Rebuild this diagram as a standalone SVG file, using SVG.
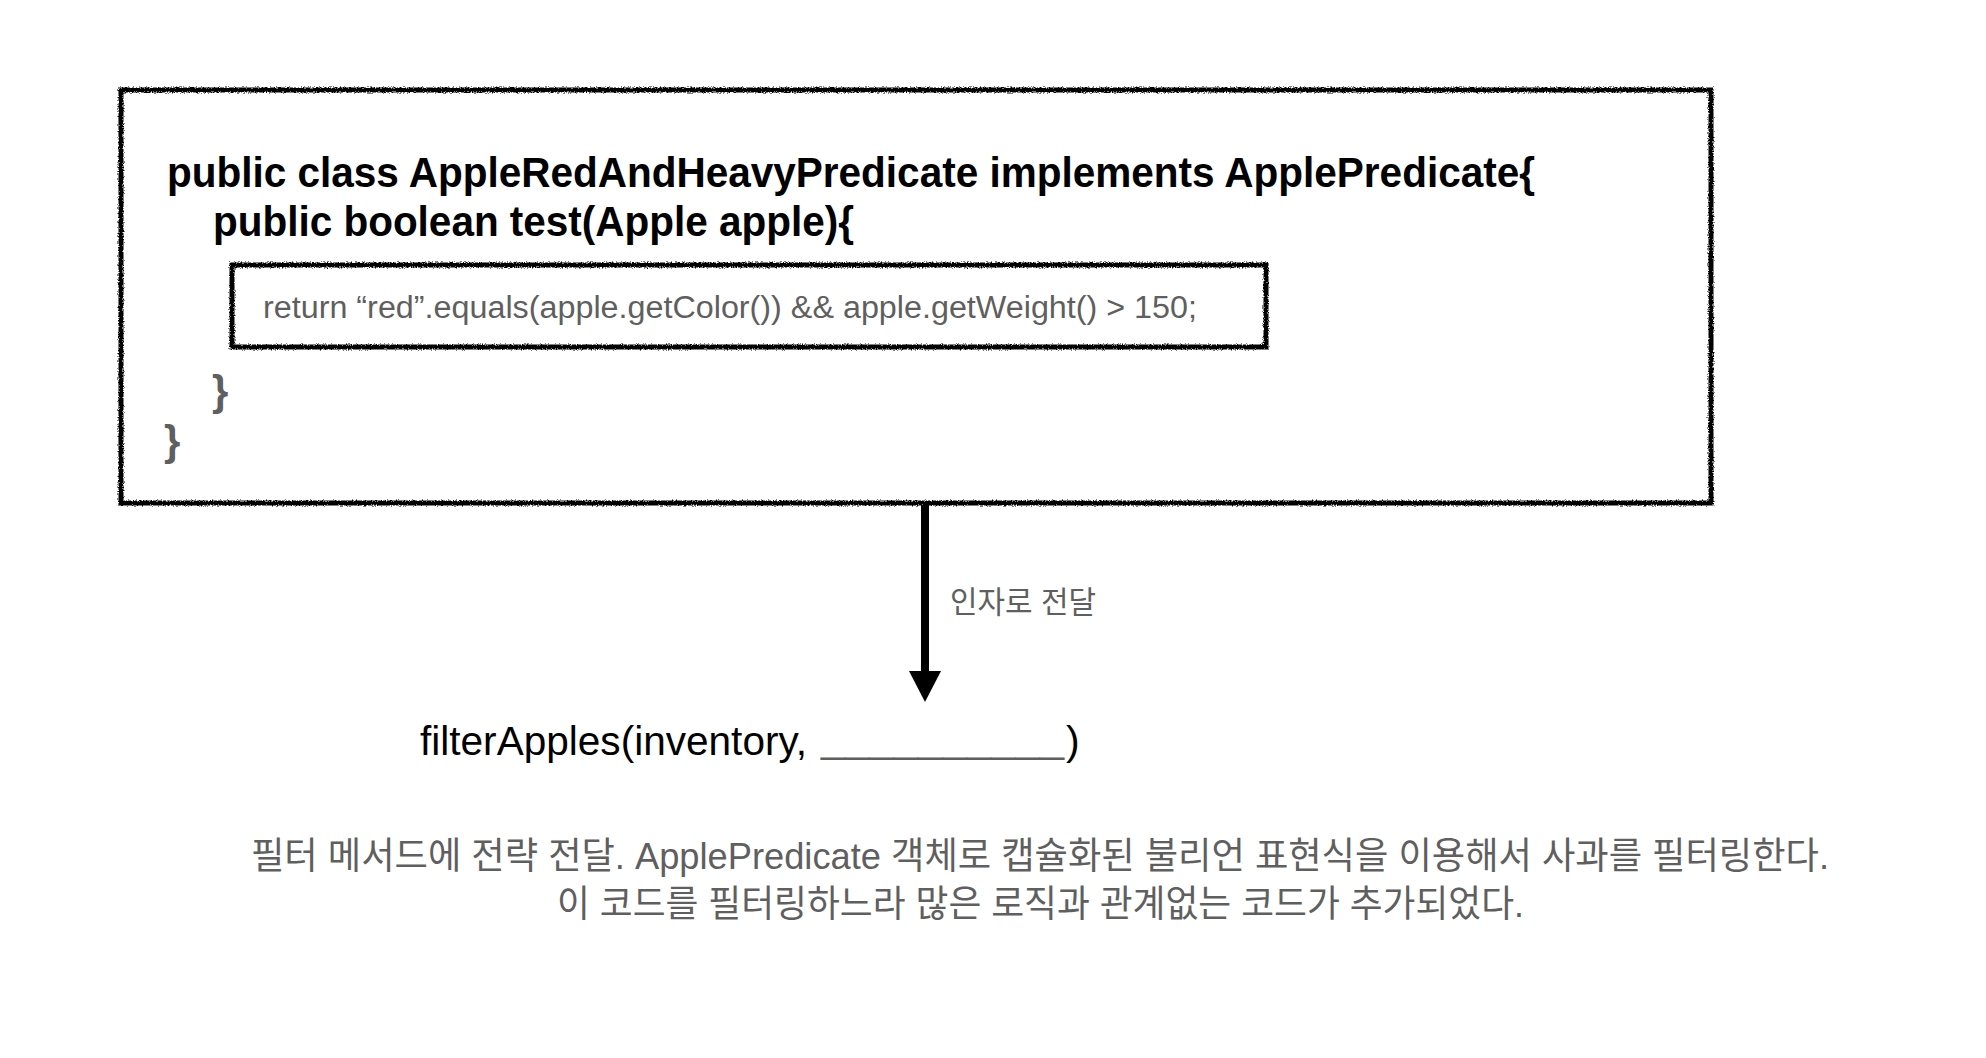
<svg xmlns="http://www.w3.org/2000/svg" width="1986" height="1058" viewBox="0 0 1986 1058">
<defs>
<filter id="rough" x="-2%" y="-5%" width="104%" height="110%">
<feTurbulence type="fractalNoise" baseFrequency="0.8" numOctaves="2" seed="3" result="n"/>
<feDisplacementMap in="SourceGraphic" in2="n" scale="4" xChannelSelector="R" yChannelSelector="G"/>
</filter>
<marker id="head" viewBox="0 -16 31 32" refX="0" refY="0" markerWidth="31" markerHeight="32" markerUnits="userSpaceOnUse" orient="auto">
<path d="M0,-16 L31,0 L0,16 z" fill="#000"/>
</marker>
</defs>
<style>
.box{fill:none;stroke:#000;stroke-width:5;filter:url(#rough)}
.code{font-family:"Liberation Sans",Arial,sans-serif;font-weight:bold;font-size:42px;fill:#000}
.brace{font-family:"Liberation Sans",Arial,sans-serif;font-weight:bold;font-size:42px;fill:#5f5f5f}
.ret{font-family:"Liberation Sans",Arial,sans-serif;font-size:31px;fill:#5f5f5f}
.call{font-family:"Liberation Sans",Arial,sans-serif;font-size:41px;fill:#000}
.under{font-family:"Liberation Sans",Arial,sans-serif;font-size:40px;fill:#5f5f5f}
.kr{font-family:"Liberation Sans","Noto Sans CJK KR",sans-serif;fill:#5f5f5f}
</style>
<rect width="1986" height="1058" fill="#fff"/>
<g id="class-box">
<rect class="box" x="121" y="90" width="1590" height="413"/>
<text class="code" x="167" y="187" textLength="1368" lengthAdjust="spacingAndGlyphs">public class AppleRedAndHeavyPredicate implements ApplePredicate{</text>
<text class="code" x="213" y="236" textLength="641" lengthAdjust="spacingAndGlyphs">public boolean test(Apple apple){</text>
<text class="brace" x="212" y="405">}</text>
<text class="brace" x="164" y="455">}</text>
</g>
<g id="return-box">
<rect class="box" x="232" y="265" width="1034" height="82"/>
<text class="ret" x="263" y="318" textLength="934" lengthAdjust="spacingAndGlyphs">return “red”.equals(apple.getColor()) &amp;&amp; apple.getWeight() &gt; 150;</text>
</g>
<g id="connectors">
<line x1="925" y1="505" x2="925" y2="671" stroke="#000" stroke-width="8" marker-end="url(#head)"/>
<text class="kr" x="950" y="613" font-size="31" textLength="146" lengthAdjust="spacingAndGlyphs">인자로 전달</text>
</g>
<g id="call">
<text class="call" x="420" y="755" textLength="387" lengthAdjust="spacingAndGlyphs">filterApples(inventory,</text>
<text class="under" x="821" y="752" textLength="243" lengthAdjust="spacingAndGlyphs">__________</text>
<text class="call" x="1066" y="755">)</text>
</g>
<g id="note">
<text class="kr" x="251" y="869" font-size="37" textLength="1578" lengthAdjust="spacingAndGlyphs">필터 메서드에 전략 전달. ApplePredicate 객체로 캡슐화된 불리언 표현식을 이용해서 사과를 필터링한다.</text>
<text class="kr" x="557" y="917" font-size="37" textLength="967" lengthAdjust="spacingAndGlyphs">이 코드를 필터링하느라 많은 로직과 관계없는 코드가 추가되었다.</text>
</g>
</svg>
